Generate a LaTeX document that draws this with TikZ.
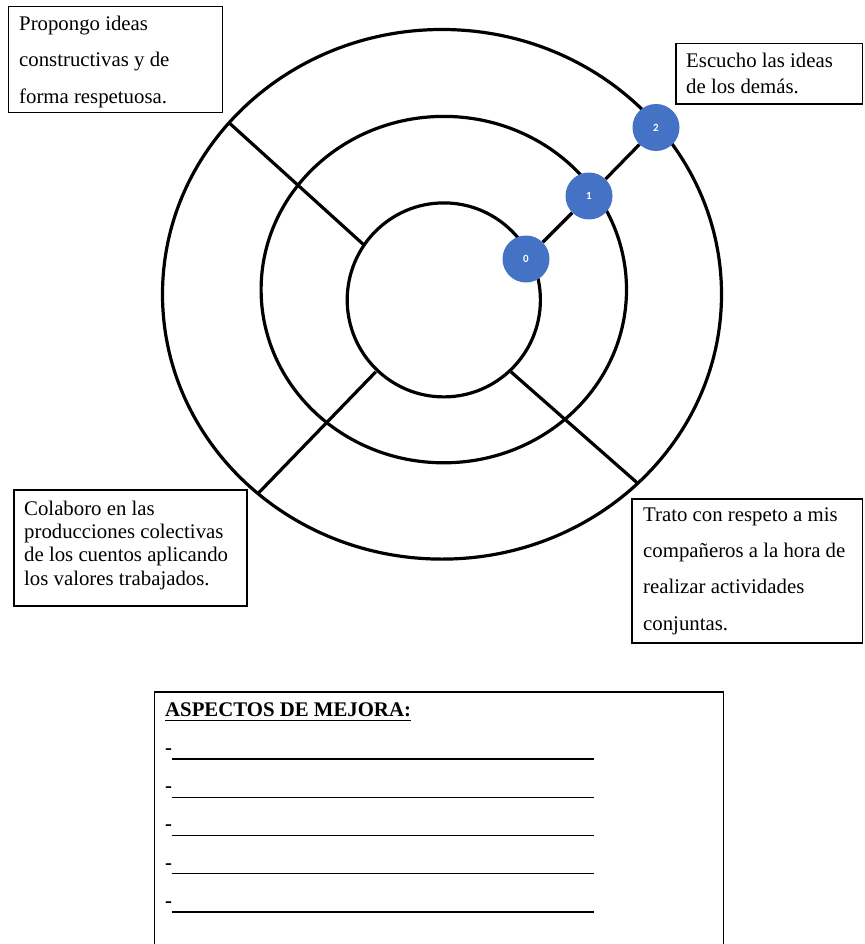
\documentclass[tikz,border=0pt]{standalone}
\usepackage{fontspec}
\setmainfont{Liberation Serif}
\newfontfamily\numfont{Carlito}
\definecolor{dotblue}{HTML}{4472C4}
\begin{document}
\begin{tikzpicture}[x=1pt,y=-1pt,
  ring/.style={line width=3.2pt},
  spoke/.style={line width=3.2pt},
  frame/.style={line width=1.3pt},
  txt/.style={inner sep=0pt, anchor=north west, align=left, font=\fontsize{20.8pt}{#1}\selectfont},
  dot/.style={circle, fill=dotblue, minimum size=47pt, inner sep=0pt, text=white, font=\numfont\bfseries\fontsize{11pt}{13pt}\selectfont},
  link/.style={line width=3.2pt},
  rowline/.style={line width=1.4pt},
  dashtxt/.style={anchor=base west, inner sep=0pt, font=\fontsize{20.8pt}{24pt}\selectfont\bfseries}
]
\fill[white] (0,0) rectangle (864,944);
\useasboundingbox (0,0) rectangle (864,944);

% rings
\draw[ring] (442,294.3) ellipse [x radius=279.5, y radius=264.8];
\draw[ring] (443.8,289.6) ellipse [x radius=182.7, y radius=173.2];
\draw[ring] (443.8,299.9) ellipse [x radius=96.6, y radius=97];

% spokes
\draw[spoke] (229.2,122.9) -- (363.2,244.3);
\draw[spoke] (375.8,371.8) -- (258.3,493.2);
\draw[spoke] (510.9,371.8) -- (636.8,482.5);

% scale dots
\node[dot] (n0) at (526,259) {0};
\node[dot] (n1) at (589,196) {1};
\node[dot] (n2) at (656,127.5) {2};
\draw[link] (n0) -- (n1);
\draw[link] (n1) -- (n2);

% box 1
\draw[frame] (8.3,6.7) rectangle (222.7,112.7);
\node[txt=36.5pt] (t1) at (19,15.8) {Propongo ideas\\constructivas y de\\forma respetuosa.};

% box 2
\draw[frame] (676,43.3) rectangle (862.5,104);
\node[txt=26pt] (t2) at (686,52.8) {Escucho las ideas\\de los demás.};

% box 3
\draw[frame] (14,490) rectangle (247,606);
\node[txt=23.3pt] (t3) at (24,500.5) {Colaboro en las\\producciones colectivas\\de los cuentos aplicando\\los valores trabajados.};

% box 4
\draw[frame] (632,499) rectangle (862.5,643);
\node[txt=36.3pt] (t4) at (643,507.2) {Trato con respeto a mis\\compañeros a la hora de\\realizar actividades\\conjuntas.};

% improvement box
\draw[frame] (154.5,946) -- (154.5,692) -- (723.6,692) -- (723.6,946);
\node[anchor=base west, inner sep=0pt, font=\fontsize{20.8pt}{24pt}\selectfont\bfseries] (title) at (165,716.7) {ASPECTOS DE MEJORA:};
\draw[line width=1.3pt] ([yshift=-3.5pt]title.base west) -- ([yshift=-3.5pt]title.base east);
\foreach \i in {0,...,4}{
  \node[dashtxt] (d\i) at (165,{754.5+38.2*\i}) {-};
  \draw[rowline] (171.8,{759+38.2*\i}) -- (593.5,{759+38.2*\i});
}
\end{tikzpicture}
\end{document}
